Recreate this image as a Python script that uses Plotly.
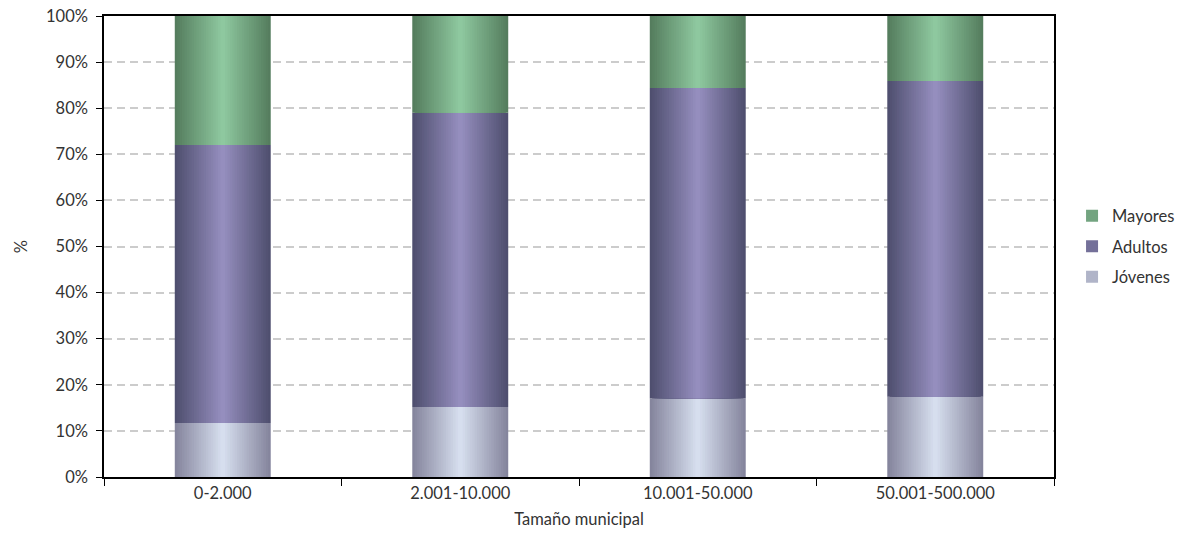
import plotly.graph_objects as go

categories = ["0-2.000", "2.001-10.000", "10.001-50.000", "50.001-500.000"]
jovenes = [11.7, 15.2, 17.1, 17.4]
adultos = [60.3, 63.8, 67.3, 68.5]
mayores = [28.0, 21.0, 15.6, 14.1]
series_names = ["Jóvenes", "Adultos", "Mayores"]
legend_ranks = [3, 2, 1]
tick_vals = [0, 10, 20, 30, 40, 50, 60, 70, 80, 90, 100]
tick_text = ["0%", "10%", "20%", "30%", "40%", "50%", "60%", "70%", "80%", "90%", "100%"]

# gradient edge / center colours per series
grad = {
    "Jóvenes": ((0x85, 0x85, 0x9D), (0xD6, 0xDE, 0xEE)),
    "Adultos": ((0x4F, 0x4F, 0x6F), (0x95, 0x8E, 0xBE)),
    "Mayores": ((0x55, 0x7D, 0x5E), (0x8E, 0xC8, 0x9F)),
}

BAR_W = 0.404
N = 20

fig = go.Figure()
values = [jovenes, adultos, mayores]
base = [0.0] * len(categories)
for name, vals, rank in zip(series_names, values, legend_ranks):
    edge, center = grad[name]
    for k in range(N):
        t = k / (N - 1)
        c = tuple(round(edge[i] + (center[i] - edge[i]) * t) for i in range(3))
        w = BAR_W * (1 - k / N)
        fig.add_trace(go.Bar(
            x=categories, y=vals, base=list(base), width=[w] * len(categories),
            marker=dict(color="rgb(%d,%d,%d)" % c, line=dict(width=0)),
            name=name, legendgroup=name, legendrank=rank,
            showlegend=(k == N // 2), hoverinfo="skip",
        ))
    base = [b + v for b, v in zip(base, vals)]

font_color = "#333333"
FS = 16.5
fig.update_layout(
    barmode="overlay",
    width=1182, height=534,
    margin=dict(l=104, r=128, t=16, b=57, autoexpand=False),
    plot_bgcolor="white", paper_bgcolor="white",
    font=dict(family="Lato, 'Noto Sans', sans-serif", size=FS, color=font_color),
    legend=dict(x=1.019, y=0.5, yanchor="middle", xanchor="left",
                traceorder="grouped", font=dict(size=FS),
                itemwidth=30, tracegroupgap=6),
    showlegend=True,
)
fig.update_xaxes(
    type="category", tickson="boundaries", ticks="outside", ticklen=7,
    tickcolor="black", showline=True, linecolor="black", linewidth=1.5,
    mirror=True, showgrid=False, automargin=False,
    title=dict(text="Tamaño municipal", standoff=12, font=dict(size=FS)),
    tickfont=dict(size=FS),
)
fig.update_yaxes(
    range=[0, 100], tickvals=tick_vals, ticktext=tick_text, ticks="outside",
    ticklen=6, tickcolor="black", showline=True, linecolor="black",
    linewidth=1.5, mirror=True, showgrid=True, gridcolor="#CCCCCC",
    gridwidth=2, griddash="8px,5px", zeroline=False, automargin=False,
    ticklabelstandoff=5, ticklabeloverflow="allow",
    title=dict(text="%", standoff=14, font=dict(size=FS)),
    tickfont=dict(size=FS),
)
fig.write_html("out.html", config={"displayModeBar": False},
               post_script="document.body.style.margin='0';")
